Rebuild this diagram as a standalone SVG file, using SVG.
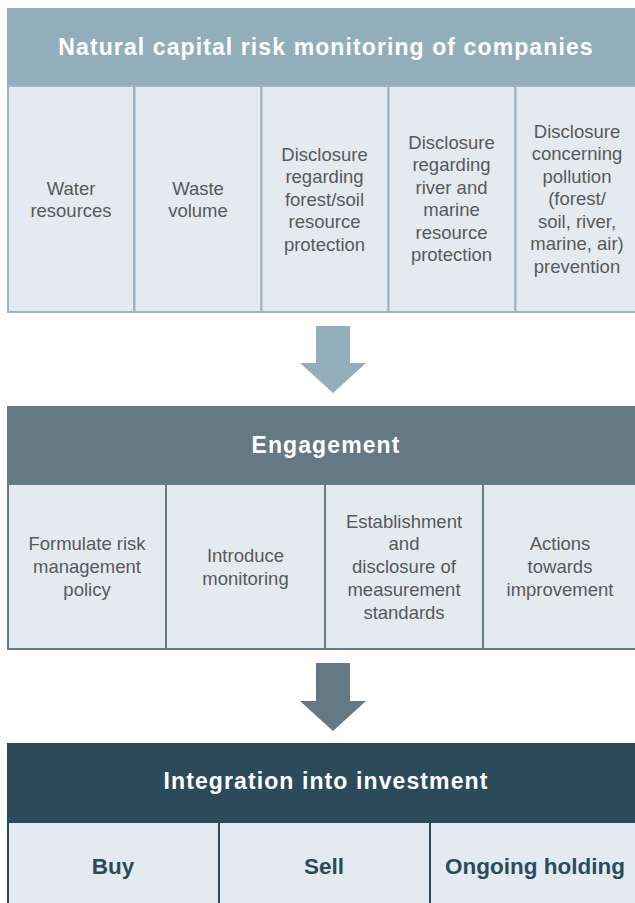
<svg xmlns="http://www.w3.org/2000/svg" width="635" height="903" viewBox="0 0 635 903">
<style>
.hdr{font-family:"Liberation Sans",Arial,sans-serif;font-weight:bold;font-size:23px;letter-spacing:1.1px;fill:#ffffff;text-anchor:middle}
.cell{font-family:"Liberation Sans",Arial,sans-serif;font-size:18.5px;fill:#58595b;text-anchor:middle}
.bcell{font-family:"Liberation Sans",Arial,sans-serif;font-weight:bold;font-size:22.5px;fill:#2b4b5b;text-anchor:middle}
.c1{fill:#e3ebf0;stroke:#9cb4c1;stroke-width:2}
.c2{fill:#e3ebf0;stroke:#687c86;stroke-width:2}
.c3{fill:#e3ebf0;stroke:#2b4b5b;stroke-width:2}
</style>
<rect width="635" height="903" fill="#ffffff"/>

<g id="block1">
  <rect x="7" y="8" width="628" height="78" fill="#93aebb"/>
  <text class="hdr" x="326" y="55">Natural capital risk monitoring of companies</text>
</g>
<g id="water">
  <rect class="c1" x="8" y="86" width="126" height="226"/>
  <text class="cell" x="71" y="194.5">Water</text>
  <text class="cell" x="71" y="217">resources</text>
</g>
<g id="waste">
  <rect class="c1" x="134.5" y="86" width="127" height="226"/>
  <text class="cell" x="198" y="194.5">Waste</text>
  <text class="cell" x="198" y="217">volume</text>
</g>
<g id="forest">
  <rect class="c1" x="261.5" y="86" width="127" height="226"/>
  <text class="cell" x="324.5" y="160.5">Disclosure</text>
  <text class="cell" x="324.5" y="183">regarding</text>
  <text class="cell" x="324.5" y="205.5">forest/soil</text>
  <text class="cell" x="324.5" y="228">resource</text>
  <text class="cell" x="324.5" y="250.5">protection</text>
</g>
<g id="river">
  <rect class="c1" x="388.5" y="86" width="127" height="226"/>
  <text class="cell" x="451.5" y="148.5">Disclosure</text>
  <text class="cell" x="451.5" y="171">regarding</text>
  <text class="cell" x="451.5" y="193.5">river and</text>
  <text class="cell" x="451.5" y="216">marine</text>
  <text class="cell" x="451.5" y="238.5">resource</text>
  <text class="cell" x="451.5" y="261">protection</text>
</g>
<g id="pollution">
  <rect class="c1" x="515.5" y="86" width="121" height="226"/>
  <text class="cell" x="577" y="137.5">Disclosure</text>
  <text class="cell" x="577" y="160">concerning</text>
  <text class="cell" x="577" y="182.5">pollution</text>
  <text class="cell" x="577" y="205">(forest/</text>
  <text class="cell" x="577" y="227.5">soil, river,</text>
  <text class="cell" x="577" y="250">marine, air)</text>
  <text class="cell" x="577" y="272.5">prevention</text>
</g>

<g id="connectors">
  <polygon points="316,326 350,326 350,363 366,363 333,393 300,363 316,363" fill="#93aebb"/>
  <polygon points="316,663 350,663 350,701 366,701 333,731 300,701 316,701" fill="#647983"/>
</g>

<g id="block2">
  <rect x="7" y="406" width="628" height="78" fill="#647983"/>
  <text class="hdr" x="326" y="453">Engagement</text>
</g>
<g id="formulate">
  <rect class="c2" x="8" y="484" width="158" height="165"/>
  <text class="cell" x="87" y="549.5">Formulate risk</text>
  <text class="cell" x="87" y="572.5">management</text>
  <text class="cell" x="87" y="595.5">policy</text>
</g>
<g id="introduce">
  <rect class="c2" x="166" y="484" width="159" height="165"/>
  <text class="cell" x="245.5" y="561.5">Introduce</text>
  <text class="cell" x="245.5" y="584.5">monitoring</text>
</g>
<g id="establish">
  <rect class="c2" x="325" y="484" width="158" height="165"/>
  <text class="cell" x="404" y="527.5">Establishment</text>
  <text class="cell" x="404" y="550">and</text>
  <text class="cell" x="404" y="573">disclosure of</text>
  <text class="cell" x="404" y="595.5">measurement</text>
  <text class="cell" x="404" y="618.5">standards</text>
</g>
<g id="actions">
  <rect class="c2" x="483" y="484" width="154" height="165"/>
  <text class="cell" x="560" y="549.5">Actions</text>
  <text class="cell" x="560" y="572.5">towards</text>
  <text class="cell" x="560" y="595.5">improvement</text>
</g>

<g id="block3">
  <rect x="7" y="743" width="628" height="79" fill="#2b4b5b"/>
  <text class="hdr" x="326" y="789">Integration into investment</text>
</g>
<g id="buy">
  <rect class="c3" x="8" y="822" width="211" height="85"/>
  <text class="bcell" x="113" y="874">Buy</text>
</g>
<g id="sell">
  <rect class="c3" x="219" y="822" width="211" height="85"/>
  <text class="bcell" x="324" y="874">Sell</text>
</g>
<g id="holding">
  <rect class="c3" x="430" y="822" width="207" height="85"/>
  <text class="bcell" x="535" y="874">Ongoing holding</text>
</g>
</svg>
